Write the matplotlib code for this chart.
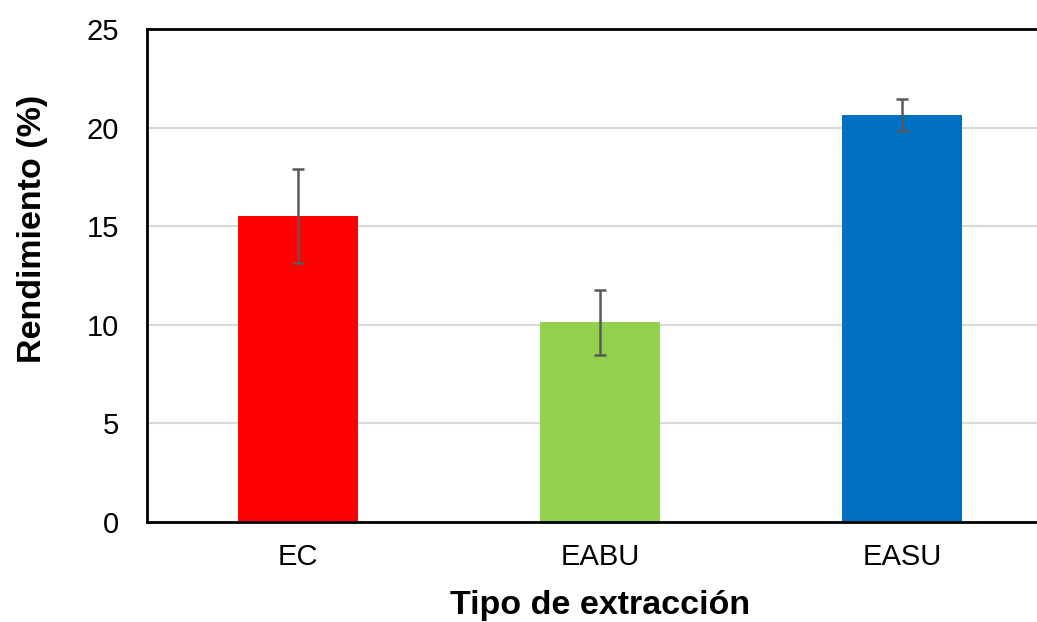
import matplotlib.pyplot as plt

plt.rcParams['font.family'] = ['Liberation Sans', 'DejaVu Sans']

categories = ["EC", "EABU", "EASU"]
values = [15.52, 10.13, 20.64]
errors = [2.4, 1.65, 0.8]
colors = ["#ff0000", "#92d050", "#0070c0"]

fig = plt.figure(figsize=(10.37, 6.22), dpi=100)
# plot area runs past the right edge of the picture, as in the original
ax = fig.add_axes([147 / 1037, 100 / 622, 1053 / 1037 - 147 / 1037, 493 / 622])

x = range(len(categories))
ax.bar(x, values, width=0.40, color=colors, zorder=2)
ax.errorbar(x, values, yerr=errors, fmt="none", ecolor="#595959",
            elinewidth=1.8, capsize=4.2, capthick=1.8, zorder=3)

ax.set_xlim(-0.5, 2.5)
ax.set_ylim(0, 25)
ax.set_yticks([0, 5, 10, 15, 20, 25])
ax.set_xticks(list(x))
ax.set_xticklabels(categories)
ax.yaxis.grid(True, color="#d9d9d9", linewidth=1.5, zorder=0)
ax.set_axisbelow(True)

for s in ["left", "bottom", "top"]:
    ax.spines[s].set_linewidth(2)
    ax.spines[s].set_color("black")
ax.spines["right"].set_visible(False)

ax.tick_params(axis="both", length=0, labelsize=21)
ax.tick_params(axis="x", pad=15)
ax.tick_params(axis="y", pad=20)
ax.set_xlabel("Tipo de extracción", fontsize=24.5, fontweight="bold", labelpad=14)
ax.set_ylabel("Rendimiento (%)", fontsize=24.5, fontweight="bold", labelpad=28)
# the y title sits a bit above the middle of the axis in the original
ax.yaxis.label.set_y(0.595)

fig.savefig("out.png", dpi=100)
